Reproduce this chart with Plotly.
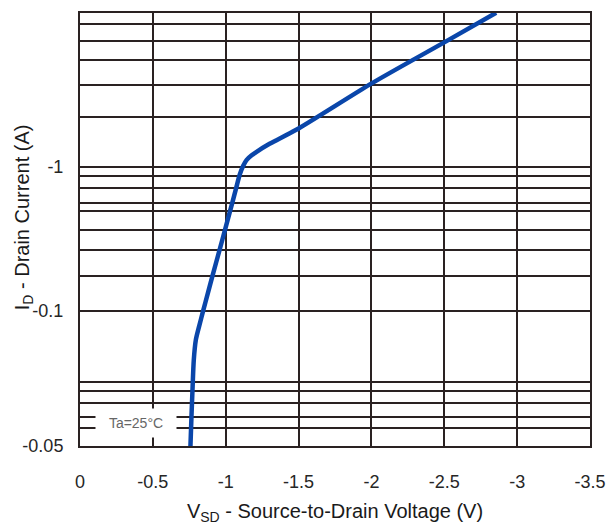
import numpy as np
import plotly.graph_objects as go

# Curve (V_SD in volts, |I_D| in amps)
vsd = [-0.758, -0.765, -0.772, -0.781, -0.795, -0.817, -0.845, -0.878, -0.911,
       -0.958, -0.995, -1.045, -1.072, -1.096, -1.120, -1.144, -1.178, -1.212,
       -1.301, -1.484, -2.005, -2.512, -2.856]
id_abs = [0.01155, 0.01845, 0.0283, 0.0457, 0.0629, 0.0778, 0.100, 0.1334, 0.178,
          0.265, 0.365, 0.562, 0.715, 0.880, 1.016, 1.118, 1.202, 1.271,
          1.444, 1.806, 3.81, 7.42, 11.73]

# X axis ticks
x_ticks = [0, -0.5, -1, -1.5, -2, -2.5, -3, -3.5]
x_labels = ["0", "-0.5", "-1", "-1.5", "-2", "-2.5", "-3", "-3.5"]

# Y grid lines (as drawn in the source chart) and labelled ticks
y_grid = [9.84, 7.50, 5.53, 3.69, 2.20, 1.0, 0.866, 0.711, 0.562, 0.495, 0.365,
          0.265, 0.175, 0.1, 0.0321, 0.0278, 0.0230, 0.0184, 0.0154, 0.01155]
y_label_vals = {1.0: "-1", 0.1: "-0.1", 0.01155: "-0.05"}
y_range_vals = [0.01155, 11.68]

grid_color = "#2a2222"
font_family = "Liberation Sans, Arial, sans-serif"

fig = go.Figure()
fig.add_trace(go.Scatter(
    x=vsd, y=id_abs, mode="lines",
    line=dict(color="#0a46aa", width=4.5, shape="spline", smoothing=0.8),
    showlegend=False, hoverinfo="skip"))

fig.update_layout(
    width=611, height=530,
    margin=dict(l=80, r=21, t=13, b=84),
    paper_bgcolor="white", plot_bgcolor="white",
    font=dict(family=font_family, size=18, color="#262626"),
)

fig.update_xaxes(
    range=[0, -3.5], tickvals=x_ticks, ticktext=x_labels,
    showgrid=True, gridcolor=grid_color, gridwidth=2,
    showline=True, linecolor=grid_color, linewidth=2, mirror=True,
    zeroline=False, ticks="", ticklabelstandoff=18,
    tickfont=dict(size=18, color="#262626"),
    title=dict(text="V<sub>SD</sub> - Source-to-Drain Voltage (V)",
               font=dict(size=20, color="#1a1a1a"), standoff=13),
    automargin=False,
)

fig.update_yaxes(
    type="log", range=[np.log10(y_range_vals[0]), np.log10(y_range_vals[1])],
    tickvals=y_grid, ticktext=[y_label_vals.get(v, "") for v in y_grid],
    showgrid=True, gridcolor=grid_color, gridwidth=2,
    showline=True, linecolor=grid_color, linewidth=2, mirror=True,
    zeroline=False, ticks="", ticklabelstandoff=11,
    tickfont=dict(size=18, color="#262626"),
    automargin=False,
)

# Y axis title (placed as annotation to sit close to the tick labels)
fig.add_annotation(
    xref="paper", yref="paper", x=-0.112, y=0.528,
    xanchor="center", yanchor="middle", textangle=-90,
    text="I<sub>D</sub> - Drain Current (A)", showarrow=False,
    font=dict(size=20, color="#1a1a1a", family=font_family),
)

fig.add_annotation(
    xref="paper", yref="paper", x=0.11, y=0.053,
    xanchor="center", yanchor="middle",
    text="Ta=25°C", showarrow=False,
    font=dict(size=14, color="#666666", family=font_family),
    bgcolor="white", width=78, height=26,
)

fig.write_html("out.html", config={"displayModeBar": False},
               post_script="document.body.style.margin='0';document.body.style.padding='0';")
